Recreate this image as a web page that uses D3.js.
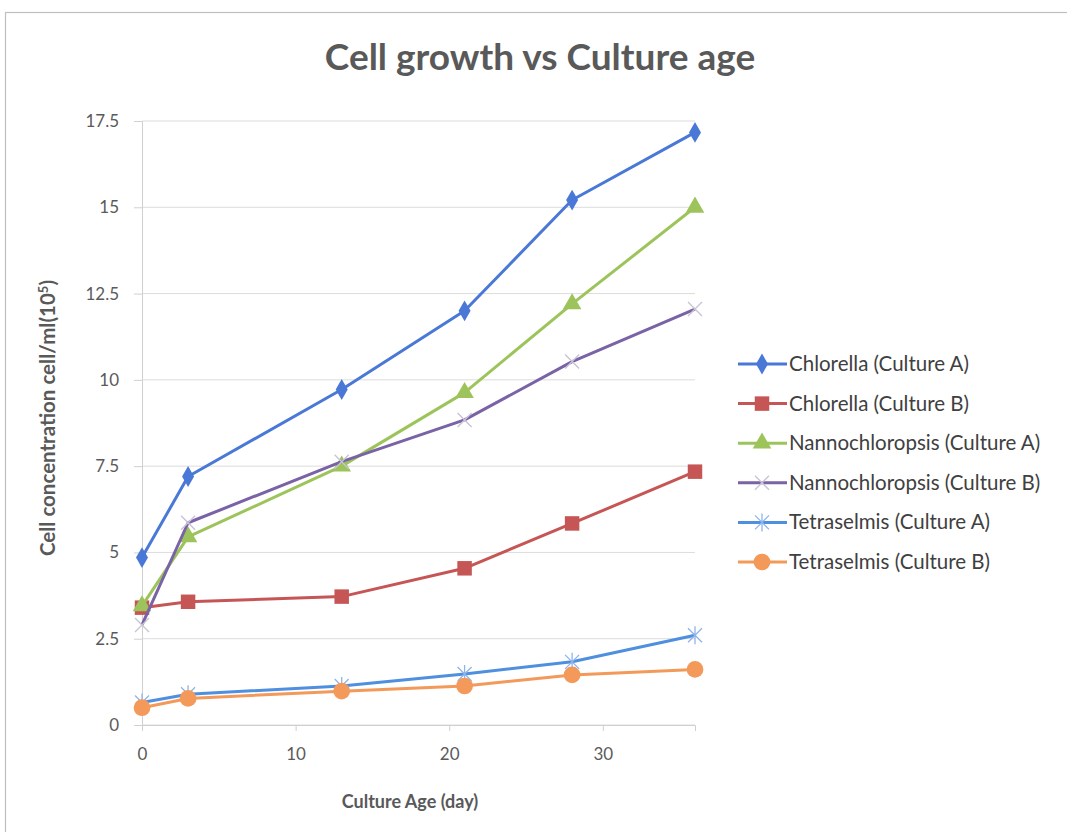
<!DOCTYPE html>
<html>
<head>
<meta charset="utf-8">
<script src="https://cdn.jsdelivr.net/npm/d3@7"></script>
<style>
  html, body { margin: 0; padding: 0; background: #fff; }
  svg { display: block; }
  text { font-family: Lato, "Open Sans", "DejaVu Sans", sans-serif; }
</style>
</head>
<body>
<svg id="chart" width="1067" height="832"></svg>
<script>
// Culture age in days
const days = [0, 3, 13, 21, 28, 36];

// Cell concentration, cell/ml (x10^5)
const chlorellaA = [4.85, 7.2, 9.72, 12.0, 15.21, 17.17];
const chlorellaB = [3.4, 3.57, 3.72, 4.54, 5.84, 7.34];
const nannoA = [3.45, 5.45, 7.5, 9.63, 12.2, 15.0];
const nannoB = [2.9, 5.86, 7.63, 8.84, 10.53, 12.05];
const tetraA = [0.65, 0.89, 1.13, 1.48, 1.83, 2.6];
const tetraB = [0.5, 0.77, 0.98, 1.13, 1.45, 1.61];

const seriesNames = [
  "Chlorella (Culture A)", "Chlorella (Culture B)",
  "Nannochloropsis (Culture A)", "Nannochloropsis (Culture B)",
  "Tetraselmis (Culture A)", "Tetraselmis (Culture B)"
];
const seriesValues = [chlorellaA, chlorellaB, nannoA, nannoB, tetraA, tetraB];
const seriesColors = ["#4a78d6", "#c65655", "#9cc45a", "#7a62a6", "#4f8fe0", "#f39a5a"];
const seriesMarkers = ["diamond", "square", "triangle", "cross", "star", "circle"];

const yTicks = [0, 2.5, 5, 7.5, 10, 12.5, 15, 17.5];
const xTicks = [0, 10, 20, 30];

const svg = d3.select("#chart");

// Outer chart frame
svg.append("rect")
  .attr("x", 5.5).attr("y", 12.5)
  .attr("width", 1080).attr("height", 840)
  .attr("fill", "#fff").attr("stroke", "#bfbfbf").attr("stroke-width", 1.2);

const plot = { left: 142, right: 695, top: 121, bottom: 725 };

const x = d3.scaleLinear().domain([0, 36]).range([plot.left, plot.right]);
const y = d3.scaleLinear().domain([0, 17.5]).range([plot.bottom, plot.top]);

// Horizontal gridlines
svg.append("g")
  .selectAll("line")
  .data(yTicks)
  .join("line")
  .attr("x1", plot.left).attr("x2", plot.right)
  .attr("y1", d => y(d)).attr("y2", d => y(d))
  .attr("stroke", "#dcdcdc").attr("stroke-width", 1);

// Y axis
const yAxis = svg.append("g")
  .attr("transform", `translate(${plot.left},0)`)
  .call(d3.axisLeft(y).tickValues(yTicks).tickSize(8).tickPadding(15)
    .tickFormat(d => String(d)));
yAxis.select(".domain").attr("stroke", "#d0d0d0");
yAxis.selectAll(".tick line").attr("stroke", "#d0d0d0");
yAxis.selectAll(".tick text")
  .attr("fill", "#5a5a5a").style("font-size", "17px")
  .style("font-family", "Lato, sans-serif");

// X axis
const xAxis = svg.append("g")
  .attr("transform", `translate(0,${plot.bottom})`)
  .call(d3.axisBottom(x).tickValues(xTicks).tickSize(6).tickPadding(17)
    .tickFormat(d => String(d)));
xAxis.select(".domain").attr("stroke", "#d0d0d0");
xAxis.selectAll(".tick line").attr("stroke", "#d0d0d0");
xAxis.selectAll(".tick text")
  .attr("fill", "#5a5a5a").style("font-size", "17px")
  .style("font-family", "Lato, sans-serif");

// Title
svg.append("text")
  .attr("x", 540).attr("y", 70)
  .attr("text-anchor", "middle")
  .attr("fill", "#595959")
  .style("font-size", "37px").style("font-weight", "bold")
  .text("Cell growth vs Culture age");

// Axis titles
svg.append("text")
  .attr("x", 410).attr("y", 808)
  .attr("text-anchor", "middle")
  .attr("fill", "#595959")
  .style("font-size", "18px").style("font-weight", "bold")
  .text("Culture Age (day)");

const yTitle = svg.append("text")
  .attr("transform", "translate(55,418) rotate(-90)")
  .attr("text-anchor", "middle")
  .attr("fill", "#595959")
  .style("font-size", "20.5px").style("font-weight", "bold");
yTitle.append("tspan").text("Cell concentration  cell/ml(10");
yTitle.append("tspan").attr("dy", -7).style("font-size", "13px").text("5");
yTitle.append("tspan").attr("dy", 7).text(")");

// Marker shapes
const symbolFor = {
  diamond: d3.symbol().type(d3.symbolDiamond).size(125),
  square: d3.symbol().type(d3.symbolSquare).size(210),
  triangle: d3.symbol().type(d3.symbolTriangle).size(150),
  circle: d3.symbol().type(d3.symbolCircle).size(220)
};

function drawMarker(g, kind, color, cx, cy) {
  if (kind === "cross") {
    const s = 7;
    g.append("path")
      .attr("d", `M${cx - s},${cy - s}L${cx + s},${cy + s}M${cx - s},${cy + s}L${cx + s},${cy - s}`)
      .attr("stroke", "#c9c3d6").attr("stroke-width", 1.4).attr("fill", "none");
  } else if (kind === "star") {
    const s = 7;
    g.append("path")
      .attr("d", `M${cx - s},${cy - s}L${cx + s},${cy + s}M${cx - s},${cy + s}L${cx + s},${cy - s}M${cx},${cy - s - 2}L${cx},${cy + s + 2}`)
      .attr("stroke", "#8fb4ea").attr("stroke-width", 1.3).attr("fill", "none");
  } else {
    g.append("path")
      .attr("d", symbolFor[kind]())
      .attr("transform", `translate(${cx},${cy})`)
      .attr("fill", color);
  }
}

const line = d3.line().x(d => x(d[0])).y(d => y(d[1]));

// Series lines and markers
seriesValues.forEach((vals, i) => {
  const pts = days.map((d, j) => [d, vals[j]]);
  const g = svg.append("g");
  g.append("path")
    .attr("d", line(pts))
    .attr("fill", "none")
    .attr("stroke", seriesColors[i])
    .attr("stroke-width", 3)
    .attr("stroke-linejoin", "round");
  pts.forEach(p => drawMarker(g, seriesMarkers[i], seriesColors[i], x(p[0]), y(p[1])));
});

// Legend
const legend = svg.append("g");
seriesNames.forEach((name, i) => {
  const ly = 364 + i * 39.6;
  const g = legend.append("g");
  g.append("line")
    .attr("x1", 738).attr("x2", 787)
    .attr("y1", ly).attr("y2", ly)
    .attr("stroke", seriesColors[i]).attr("stroke-width", 3);
  drawMarker(g, seriesMarkers[i], seriesColors[i], 762, ly);
  g.append("text")
    .attr("x", 789).attr("y", ly + 7)
    .attr("fill", "#404040")
    .style("font-size", "20.5px")
    .text(name);
});
</script>
</body>
</html>
